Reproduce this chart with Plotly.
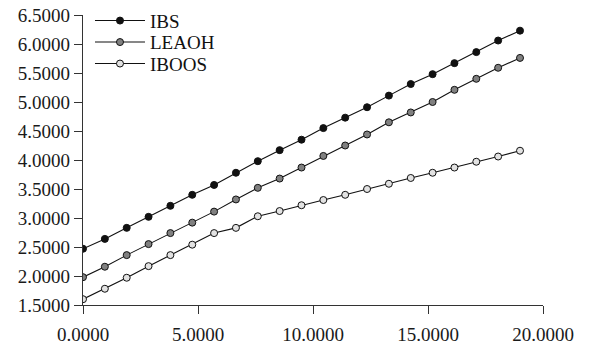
import plotly.graph_objects as go

x_vals = [round(i * 0.95, 4) for i in range(21)]
ibs = [2.47, 2.64, 2.83, 3.02, 3.21, 3.40, 3.57, 3.78, 3.98, 4.17, 4.35,
       4.55, 4.73, 4.91, 5.11, 5.31, 5.48, 5.67, 5.86, 6.06, 6.23]
leaoh = [1.98, 2.16, 2.36, 2.55, 2.74, 2.92, 3.11, 3.32, 3.52, 3.68, 3.87,
         4.07, 4.25, 4.44, 4.65, 4.82, 5.00, 5.21, 5.40, 5.59, 5.76]
iboos = [1.60, 1.78, 1.97, 2.17, 2.36, 2.54, 2.74, 2.83, 3.03, 3.12, 3.22,
         3.31, 3.40, 3.50, 3.59, 3.69, 3.78, 3.87, 3.97, 4.06, 4.16]
series_names = ["IBS", "LEAOH", "IBOOS"]
series_colors = ["#111111", "#808080", "#e2e2e2"]
x_ticks = [0, 5, 10, 15, 20]
y_ticks = [1.5, 2.0, 2.5, 3.0, 3.5, 4.0, 4.5, 5.0, 5.5, 6.0, 6.5]

FONT = "Liberation Serif"
legend_ids = ["legend", "legend2", "legend3"]
legend_y = [0.9803, 0.9062, 0.8321]

fig = go.Figure()
for name, vals, col, lid in zip(series_names, [ibs, leaoh, iboos], series_colors, legend_ids):
    fig.add_trace(go.Scatter(
        x=x_vals, y=vals, name=name, mode="lines+markers", legend=lid,
        line=dict(color="#111111", width=1.1),
        marker=dict(size=7, color=col, line=dict(color="#111111", width=1)),
    ))

legend_common = dict(x=0.0152, xanchor="left", yanchor="middle",
                     bgcolor="rgba(0,0,0,0)", font=dict(family=FONT, size=19, color="#111111"),
                     itemwidth=50)
legends = {lid: dict(legend_common, y=ly) for lid, ly in zip(legend_ids, legend_y)}

fig.update_layout(
    width=589, height=345,
    margin=dict(l=83, r=46, t=15, b=40, autoexpand=False),
    paper_bgcolor="white", plot_bgcolor="white",
    font=dict(family=FONT, size=19, color="#1a1a1a"),
    showlegend=True,
    **legends,
    xaxis=dict(range=[0, 20], tickvals=x_ticks, tickformat=".4f", automargin=False,
               showgrid=False, zeroline=False, showline=True, linecolor="#333333",
               linewidth=1.3, ticks="outside", ticklen=8, tickcolor="#333333",
               ticklabelstandoff=4),
    yaxis=dict(range=[1.5, 6.5], tickvals=y_ticks, tickformat=".4f", automargin=False,
               showgrid=False, zeroline=False, showline=True, linecolor="#333333",
               linewidth=1.3, ticks="outside", ticklen=8, tickcolor="#333333"),
)
fig.write_html("out.html", config={"displayModeBar": False},
               post_script="document.body.style.margin='0';document.body.style.overflow='hidden';")
